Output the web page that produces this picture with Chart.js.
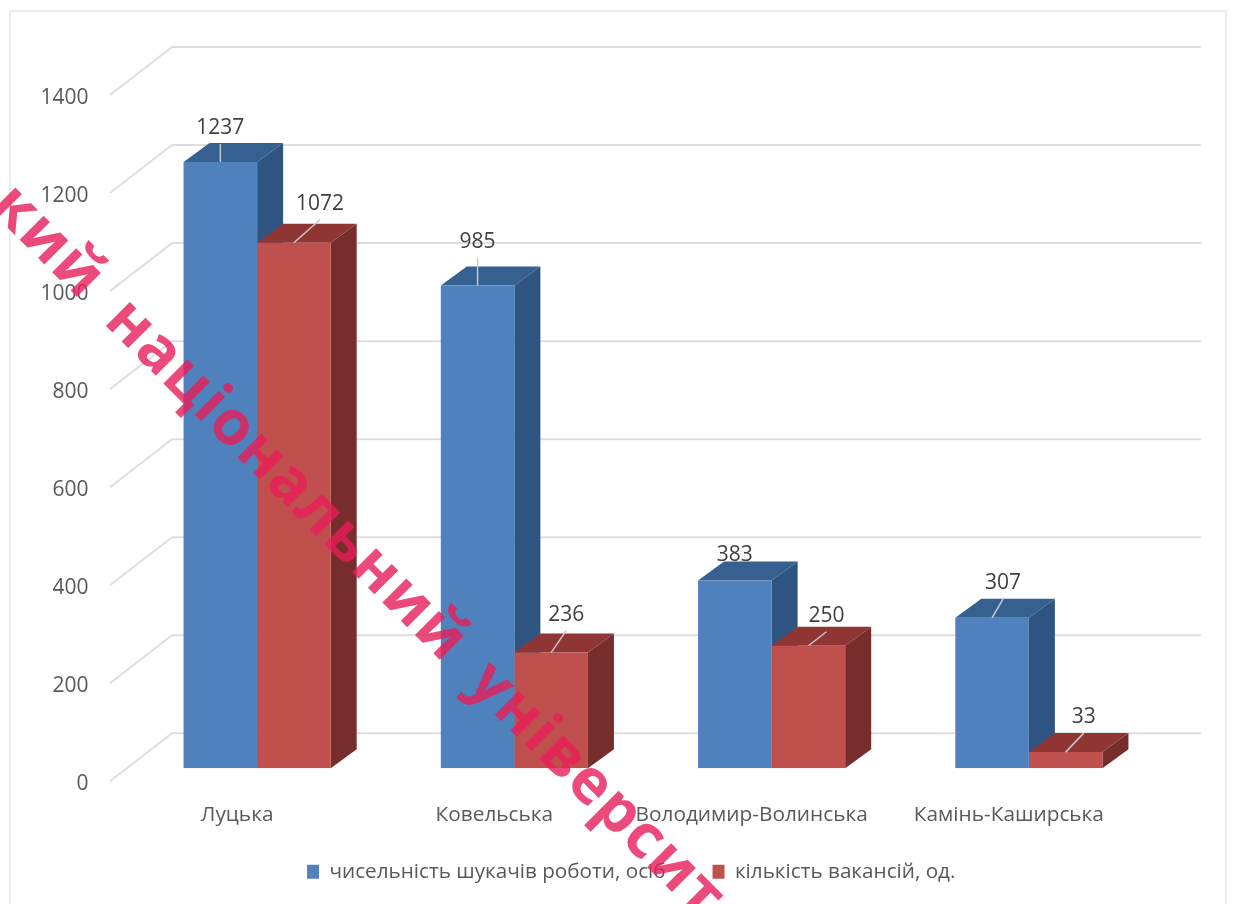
<!DOCTYPE html>
<html lang="uk">
<head>
<meta charset="utf-8">
<title>Чисельність шукачів роботи та вакансій</title>
<script src="https://cdn.jsdelivr.net/npm/chart.js@4"></script>
<style>
  html, body { margin: 0; padding: 0; background: #fff; overflow: hidden; }
  canvas { display: block; }
</style>
</head>
<body>
<canvas id="chart" width="1239" height="904"></canvas>
<script>
// ===== Data =====
const categories = ['Луцька', 'Ковельська', 'Володимир-Волинська', 'Камінь-Каширська'];
const seekers = [1237, 985, 383, 307];
const vacancies = [1072, 236, 250, 33];
const seekersLabel = 'чисельність шукачів роботи, осіб';
const vacanciesLabel = 'кількість вакансій, од.';
const watermark = 'кий національний університет';

// ===== Look =====
const FONT = '"Open Sans", sans-serif';
const TEXT = '#595959';
const DEPTH = { x: 26, y: -19 };      // bar extrusion
const WALL = { x: 62, y: -48 };       // axis edge to back wall
const LIFT = 13;                      // bars sit above the tick-label level
const faces = [
  { front: '#4f81bd', top: '#36608f', side: '#2f5481' },
  { front: '#c0504d', top: '#8f3634', side: '#772d2b' }
];
// label centre relative to the bar's top centre, and whether a leader is drawn
const labelNudge = [
  [[0, -34, 1], [0, -43, 1], [0, -26, 0], [11, -35, 1]],
  [[26, -39, 1], [15, -38, 1], [18, -30, 1], [18, -35, 1]]
];

const poly = (ctx, color, pts) => {
  ctx.fillStyle = color;
  ctx.beginPath();
  pts.forEach((p, i) => i ? ctx.lineTo(p[0], p[1]) : ctx.moveTo(p[0], p[1]));
  ctx.closePath();
  ctx.fill();
};

// ===== Frame and back wall grid =====
const wallGrid = {
  id: 'wallGrid',
  afterLayout(chart) {
    // legend sits under the plot centre of the original, not the box chart.js gives it
    const lg = chart.legend;
    lg.left += 42.5; lg.right += 42.5;
    lg.top -= 12; lg.bottom -= 12;
    chart.scales.x.bottom += 12; // tick labels get clipped to the scale box otherwise
  },
  beforeDatasetsDraw(chart) {
    const { ctx, scales: { y } } = chart;
    ctx.save();
    ctx.strokeStyle = '#ececec';
    ctx.lineWidth = 2;
    ctx.strokeRect(10, 11, 1216, 920);
    ctx.strokeStyle = '#dedede';
    y.ticks.forEach(t => {
      const py = y.getPixelForValue(t.value);
      ctx.beginPath();
      ctx.moveTo(110, py);
      ctx.lineTo(110 + WALL.x, py + WALL.y);
      ctx.lineTo(1201, py + WALL.y);
      ctx.stroke();
    });
    ctx.restore();
  }
};

// ===== 3D faces =====
const bars3d = {
  id: 'bars3d',
  beforeDatasetsDraw(chart) {
    const { ctx } = chart;
    ctx.save();
    ctx.translate(0, -LIFT);
    // all extrusions go under all fronts, so red's front hides blue's side
    chart.data.datasets.forEach((ds, i) => {
      const c = faces[i];
      chart.getDatasetMeta(i).data.forEach(b => {
        const l = b.x - b.width / 2, r = b.x + b.width / 2;
        poly(ctx, c.side, [[r, b.y], [r + DEPTH.x, b.y + DEPTH.y], [r + DEPTH.x, b.base + DEPTH.y], [r, b.base]]);
        poly(ctx, c.top, [[l, b.y], [l + DEPTH.x, b.y + DEPTH.y], [r + DEPTH.x, b.y + DEPTH.y], [r, b.y]]);
      });
    });
  },
  afterDatasetsDraw(chart) {
    const { ctx } = chart;
    ctx.font = '21px ' + FONT;
    ctx.textAlign = 'center';
    ctx.textBaseline = 'middle';
    chart.data.datasets.forEach((ds, i) => {
      chart.getDatasetMeta(i).data.forEach((b, j) => {
        const [dx, dy, leader] = labelNudge[i][j];
        if (leader) {
          ctx.strokeStyle = '#c9c9c9';
          ctx.lineWidth = 1.5;
          ctx.beginPath();
          ctx.moveTo(b.x, b.y);
          ctx.lineTo(b.x + dx, b.y + dy + 16);
          ctx.stroke();
        }
        ctx.fillStyle = '#404040';
        ctx.fillText(String(ds.data[j]), b.x + dx, b.y + dy);
      });
    });
    ctx.restore();
  }
};

// ===== Watermark =====
const stamp = {
  id: 'stamp',
  afterDraw(chart) {
    const { ctx } = chart;
    ctx.save();
    ctx.translate(-12, 208);
    ctx.rotate(45 * Math.PI / 180);
    ctx.font = 'bold 62px ' + FONT;
    ctx.wordSpacing = '12px';
    ctx.letterSpacing = '1.5px';
    ctx.fillStyle = 'rgba(231,29,89,.8)';
    ctx.textAlign = 'left';
    ctx.textBaseline = 'alphabetic';
    ctx.fillText(watermark, 0, 0);
    ctx.restore();
  }
};

// ===== Chart =====
new Chart(document.getElementById('chart'), {
  type: 'bar',
  data: {
    labels: categories,
    datasets: [
      { label: seekersLabel, data: seekers, backgroundColor: faces[0].front },
      { label: vacanciesLabel, data: vacancies, backgroundColor: faces[1].front }
    ]
  },
  options: {
    responsive: false,
    animation: false,
    layout: { padding: { left: 20, right: 81.5, top: 95, bottom: 0 } },
    datasets: { bar: { categoryPercentage: 0.572, barPercentage: 1 } },
    plugins: {
      tooltip: { enabled: false },
      legend: {
        position: 'bottom',
        labels: { boxWidth: 12, boxHeight: 14, padding: 47, color: TEXT, font: { family: FONT, size: 20.7 } }
      }
    },
    scales: {
      x: {
        grid: { display: false },
        border: { display: false },
        afterFit(s) { s.height = 45; },
        ticks: { color: TEXT, font: { family: FONT, size: 20.8 }, padding: 13, labelOffset: -20, maxRotation: 0, autoSkip: false }
      },
      y: {
        min: 0, max: 1400,
        grid: { display: false },
        border: { display: false },
        afterFit(s) { s.width = 108.5; },
        ticks: { stepSize: 200, color: TEXT, font: { family: FONT, size: 21 }, padding: 32, labelOffset: 3, callback: v => String(v) }
      }
    }
  },
  plugins: [wallGrid, bars3d, stamp]
});
</script>
</body>
</html>
